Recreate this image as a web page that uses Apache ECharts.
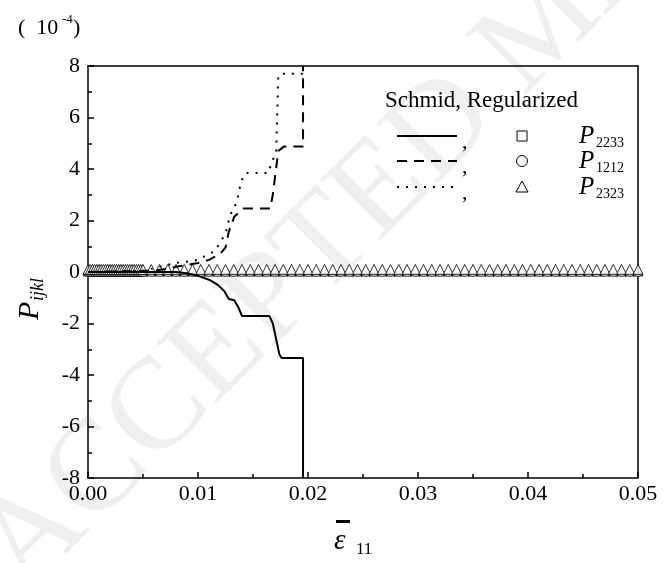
<!DOCTYPE html>
<html>
<head>
<meta charset="utf-8">
<script src="https://cdn.jsdelivr.net/npm/echarts@6/dist/echarts.min.js"></script>
<style>
  html, body { margin: 0; padding: 0; background: #fff; }
  #chart { width: 668px; height: 563px; }
</style>
</head>
<body>
<div id="chart"></div>
<script>
// strain values (x) and P values in units of 1e-4 (y)
var xTicks = [0, 0.01, 0.02, 0.03, 0.04, 0.05];
var yTicks = [-8, -6, -4, -2, 0, 2, 4, 6, 8];

// Schmid, solid line (P2233)
var solidStrain = [0, 0.008, 0.009, 0.010, 0.011, 0.0118, 0.0124, 0.0128, 0.0133, 0.0137, 0.0140, 0.0165, 0.0168, 0.0171, 0.0174, 0.0176, 0.01955, 0.01955];
var solidP = [0, 0, -0.05, -0.15, -0.3, -0.5, -0.75, -1.05, -1.1, -1.4, -1.71, -1.71, -2.0, -2.6, -3.2, -3.34, -3.34, -8];

// Schmid, dashed line (P1212)
var dashStrain = [0, 0.006, 0.007, 0.008, 0.009, 0.010, 0.011, 0.012, 0.0125, 0.0128, 0.0133, 0.01415, 0.01657, 0.0168, 0.0173, 0.0178, 0.01955, 0.01955];
var dashP = [0, 0.05, 0.12, 0.2, 0.27, 0.35, 0.47, 0.7, 0.95, 1.56, 2.15, 2.47, 2.47, 3.0, 4.7, 4.87, 4.87, 8];

// Schmid, dotted line (P2323)
var dotStrain = [0, 0.005, 0.006, 0.007, 0.008, 0.009, 0.010, 0.0108, 0.0115, 0.012, 0.0125, 0.0128, 0.0131, 0.0135, 0.0137, 0.0139, 0.0143, 0.0164, 0.0167, 0.0171, 0.0173, 0.0175, 0.0195, 0.0195];
var dotP = [0, 0.05, 0.15, 0.25, 0.35, 0.4, 0.47, 0.66, 0.8, 1.13, 1.5, 2.0, 2.4, 2.68, 3.06, 3.5, 3.84, 3.84, 4.28, 4.6, 7.6, 7.7, 7.7, 8];

// Regularized: marker strains, all values stay at about zero
var regStrainEarly = [0, 0.0002, 0.0004, 0.0006, 0.0008, 0.001, 0.0012, 0.0014, 0.0016, 0.0018, 0.002, 0.0022, 0.0024, 0.0026, 0.0028, 0.003, 0.0032, 0.0034, 0.0036, 0.0038, 0.004, 0.0042, 0.0044, 0.0046, 0.0048];
var regStrainLate = [0.005, 0.00575, 0.0065, 0.00725, 0.008, 0.00875, 0.0095, 0.01025, 0.011, 0.01175, 0.0125, 0.01325, 0.014, 0.01475, 0.0155, 0.01625, 0.017, 0.01775, 0.0185, 0.01925, 0.02, 0.02075, 0.0215, 0.02225, 0.023, 0.02375, 0.0245, 0.02525, 0.026, 0.02675, 0.0275, 0.02825, 0.029, 0.02975, 0.0305, 0.03125, 0.032, 0.03275, 0.0335, 0.03425, 0.035, 0.03575, 0.0365, 0.03725, 0.038, 0.03875, 0.0395, 0.04025, 0.041, 0.04175, 0.0425, 0.04325, 0.044, 0.04475, 0.0455, 0.04625, 0.047, 0.04775, 0.0485, 0.04925, 0.05];
var regP2233 = -0.1;
var regP1212 = -0.1;
var regP2323 = 0.1;

var FONT = '"Liberation Serif", "Times New Roman", serif';

function pairs(xs, ys) {
  return xs.map(function(x, i) { return [x, ys[i]]; });
}
function flat(xs, v) {
  return xs.map(function(x) { return [x, v]; });
}
var regStrain = regStrainEarly.concat(regStrainLate);

var chart = echarts.init(document.getElementById('chart'), null, { renderer: 'canvas' });

var lineSeries = function(name, data, type) {
  return {
    name: name,
    type: 'line',
    data: data,
    showSymbol: false,
    symbol: 'none',
    animation: false,
    clip: true,
    z: 5,
    lineStyle: { color: '#000', width: 2, type: type }
  };
};
var markSeries = function(name, data, symbol, size) {
  return {
    name: name,
    type: 'scatter',
    data: data,
    symbol: symbol,
    symbolSize: size,
    animation: false,
    z: 4,
    itemStyle: { color: '#fff', borderColor: '#000', borderWidth: 1 }
  };
};

var legendY = [136, 161, 187];
var legendDash = ['solid', [10, 7], [2, 7]];
var legendSym = ['rect', 'circle', 'triangle'];
var legendSub = ['2233', '1212', '2323'];
var legendGraphics = [{
  type: 'text', x: 385, y: 101,
  style: { text: 'Schmid, Regularized', font: '23px ' + FONT, fill: '#000', textVerticalAlign: 'middle' }
}];
legendY.forEach(function(y, i) {
  legendGraphics.push({
    type: 'line', shape: { x1: 397, y1: y, x2: 457, y2: y },
    style: { stroke: '#000', lineWidth: 2, lineDash: legendDash[i] === 'solid' ? null : legendDash[i] }
  });
  legendGraphics.push({
    type: 'text', x: 462, y: y + 6,
    style: { text: ',', font: '22px ' + FONT, fill: '#000', textVerticalAlign: 'middle' }
  });
  var sym;
  if (legendSym[i] === 'rect') {
    sym = { type: 'rect', shape: { x: 517, y: y - 5, width: 10, height: 10 }, style: { fill: '#fff', stroke: '#000', lineWidth: 1 } };
  } else if (legendSym[i] === 'circle') {
    sym = { type: 'circle', shape: { cx: 522, cy: y, r: 5.5 }, style: { fill: '#fff', stroke: '#000', lineWidth: 1 } };
  } else {
    sym = { type: 'polygon', shape: { points: [[522, y - 6], [528, y + 5], [516, y + 5]] }, style: { fill: '#fff', stroke: '#000', lineWidth: 1 } };
  }
  legendGraphics.push(sym);
  legendGraphics.push({
    type: 'text', x: 579, y: y,
    style: { text: 'P', font: 'italic 25px ' + FONT, fill: '#000', textVerticalAlign: 'middle' }
  });
  legendGraphics.push({
    type: 'text', x: 596, y: y + 7,
    style: { text: legendSub[i], font: '14px ' + FONT, fill: '#000', textVerticalAlign: 'middle' }
  });
});

var option = {
  backgroundColor: '#fff',
  animation: false,
  grid: { left: 88, right: 30, top: 66, bottom: 85, containLabel: false },
  xAxis: [{
    type: 'value', min: xTicks[0], max: xTicks[xTicks.length - 1], interval: 0.01,
    axisLine: { show: true, onZero: false, lineStyle: { color: '#000', width: 1.5 } },
    axisTick: { show: true, inside: true, length: 6, lineStyle: { color: '#000', width: 1.5 } },
    minorTick: { show: true, splitNumber: 2, length: 4, lineStyle: { color: '#000', width: 1.5 } },
    splitLine: { show: false },
    axisLabel: { color: '#000', fontSize: 22, fontFamily: FONT, margin: 5, formatter: function(v) { return v.toFixed(2); } }
  }, {
    type: 'value', position: 'top', min: 0, max: 0.05,
    axisLine: { show: true, onZero: false, lineStyle: { color: '#000', width: 1.5 } },
    axisTick: { show: false }, axisLabel: { show: false }, splitLine: { show: false }
  }],
  yAxis: [{
    type: 'value', min: yTicks[0], max: yTicks[yTicks.length - 1], interval: 2,
    axisLine: { show: true, onZero: false, lineStyle: { color: '#000', width: 1.5 } },
    axisTick: { show: true, inside: true, length: 6, lineStyle: { color: '#000', width: 1.5 } },
    minorTick: { show: true, splitNumber: 2, length: 4, lineStyle: { color: '#000', width: 1.5 } },
    splitLine: { show: false },
    axisLabel: { color: '#000', fontSize: 22, fontFamily: FONT, margin: 8 }
  }, {
    type: 'value', position: 'right', min: -8, max: 8,
    axisLine: { show: true, onZero: false, lineStyle: { color: '#000', width: 1.5 } },
    axisTick: { show: false }, axisLabel: { show: false }, splitLine: { show: false }
  }],
  graphic: [{
    type: 'text', x: -45, y: 525, rotation: Math.PI / 4, z: -10, silent: true,
    style: { text: 'ACCEPTED MANUSCRIPT', font: '130px ' + FONT, fill: '#efefef' }
  }, {
    type: 'text', x: 18, y: 28,
    style: { text: '(  10', font: '22px ' + FONT, fill: '#000', textVerticalAlign: 'middle' }
  }, {
    type: 'text', x: 62, y: 20,
    style: { text: '-4', font: '13px ' + FONT, fill: '#000', textVerticalAlign: 'middle' }
  }, {
    type: 'text', x: 73, y: 28,
    style: { text: ')', font: '22px ' + FONT, fill: '#000', textVerticalAlign: 'middle' }
  }, {
    type: 'group', x: 30, y: 320, rotation: Math.PI / 2,
    children: [{
      type: 'text', x: 0, y: 0,
      style: { text: 'P', font: 'italic 30px ' + FONT, fill: '#000', textVerticalAlign: 'middle' }
    }, {
      type: 'text', x: 19, y: 8,
      style: { text: 'ijkl', font: 'italic 18px ' + FONT, fill: '#000', textVerticalAlign: 'middle' }
    }]
  }, {
    type: 'rect', shape: { x: 336, y: 520, width: 14, height: 3 }, style: { fill: '#000' }
  }, {
    type: 'text', x: 334, y: 541,
    style: { text: 'ε', font: 'italic 29px ' + FONT, fill: '#000', textVerticalAlign: 'middle' }
  }, {
    type: 'text', x: 356, y: 550,
    style: { text: '11', font: '17px ' + FONT, fill: '#000', textVerticalAlign: 'middle' }
  }].concat(legendGraphics),
  series: [
    markSeries('Reg P2233', flat(regStrain, regP2233), 'rect', [8, 3]),
    markSeries('Reg P1212', flat(regStrain, regP1212), 'circle', [8, 3]),
    markSeries('Reg P2323', flat(regStrain, regP2323), 'triangle', 10),
    lineSeries('Schmid P2233', pairs(solidStrain, solidP), 'solid'),
    lineSeries('Schmid P1212', pairs(dashStrain, dashP), [10, 7]),
    lineSeries('Schmid P2323', pairs(dotStrain, dotP), [2, 7])
  ]
};
chart.setOption(option);
</script>
</body>
</html>
